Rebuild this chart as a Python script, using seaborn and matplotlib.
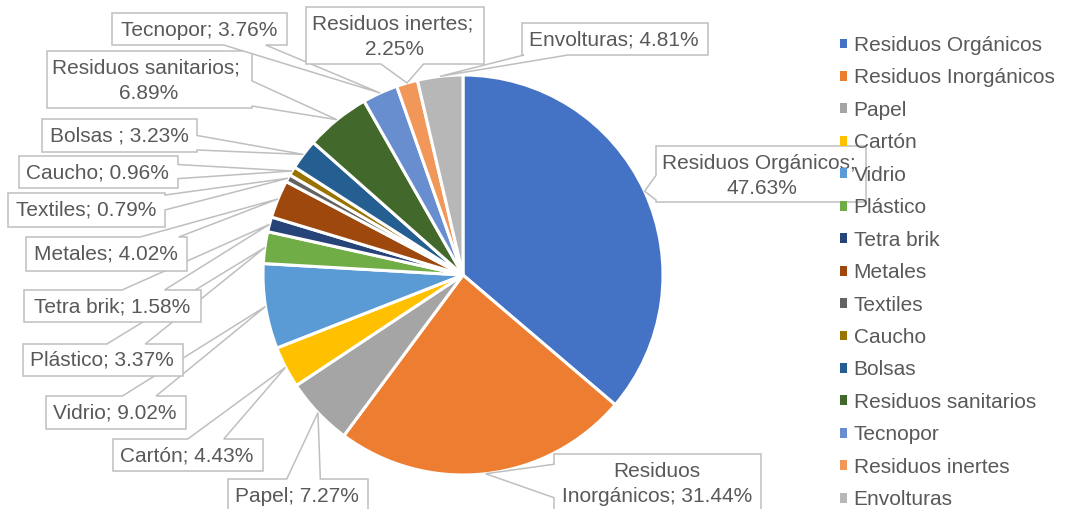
import numpy as np
import matplotlib
matplotlib.use("Agg")
import matplotlib.pyplot as plt
import seaborn as sns
from matplotlib.patches import Polygon, Patch

# ---------------- data ----------------
categories = ["Residuos Orgánicos", "Residuos Inorgánicos", "Papel", "Cartón", "Vidrio",
              "Plástico", "Tetra brik", "Metales", "Textiles", "Caucho", "Bolsas",
              "Residuos sanitarios", "Tecnopor", "Residuos inertes", "Envolturas"]
values = [47.63, 31.44, 7.27, 4.43, 9.02, 3.37, 1.58, 4.02, 0.79, 0.96, 3.23,
          6.89, 3.76, 2.25, 4.81]
label_names = ["Residuos Orgánicos", "Residuos\nInorgánicos", "Papel", "Cartón", "Vidrio",
               "Plástico", "Tetra brik", "Metales", "Textiles", "Caucho", "Bolsas ",
               "Residuos sanitarios", "Tecnopor", "Residuos inertes", "Envolturas"]
label_seps = ["; \n", "; ", "; ", "; ", "; ", "; ", "; ", "; ", "; ", "; ", "; ",
              "; \n", "; ", "; \n", "; "]
colors = ["#4472C4", "#ED7D31", "#A5A5A5", "#FFC000", "#5B9BD5", "#70AD47", "#264478",
          "#9E480E", "#636363", "#997300", "#255E91", "#43682B", "#698ED0", "#F1975A",
          "#B7B7B7"]

# ---------------- layout (pixel coordinates, y down) ----------------
W, H = 1068, 509
CENTER = (463, 275)
RADIUS = 200
# callout boxes: x0, y0, x1, y1
boxes = [
    (656, 146, 866, 202),
    (554, 454, 761, 530),
    (228, 479, 368, 530),
    (113, 439, 263, 471),
    (46, 396, 186, 429),
    (23, 344, 183, 376),
    (24, 290, 201, 322),
    (26, 237, 187, 271),
    (8, 193, 165, 227),
    (19, 156, 178, 188),
    (42, 119, 197, 152),
    (47, 51, 252, 108),
    (112, 13, 287, 45),
    (306, 7, 484, 64),
    (522, 23, 708, 55),
]
text_pos = [
    (762, 176), (657, 484), (297, 497), (187, 456), (115, 413), (102, 360),
    (112, 307), (106, 254), (86, 210), (97, 173), (119, 136), (149, 81),
    (199, 30), (395, 37), (614, 40),
]

TEXT_COLOR = "#595959"
EDGE_COLOR = "#BFBFBF"

sns.set_theme(style="white")
plt.rcParams["font.family"] = ["Liberation Sans", "DejaVu Sans"]

fig = plt.figure(figsize=(W / 100, H / 100), dpi=100)
ax = fig.add_axes([0, 0, 1, 1])

palette = sns.color_palette(colors)
wedges, _ = ax.pie(values, colors=palette, startangle=-90, counterclock=True,
                   center=CENTER, radius=RADIUS,
                   wedgeprops=dict(edgecolor="white", linewidth=2.2))
ax.set_xlim(0, W)
ax.set_ylim(H, 0)
ax.set_aspect("equal")
ax.set_axis_off()


def callout(box, tip):
    x0, y0, x1, y1 = box
    cx, cy = (x0 + x1) / 2, (y0 + y1) / 2
    dx, dy = tip[0] - cx, tip[1] - cy
    hw, hh = (x1 - x0) / 2, (y1 - y0) / 2
    tx = hw / abs(dx) if dx else np.inf
    ty = hh / abs(dy) if dy else np.inf
    TL, TR, BR, BL = (x0, y0), (x1, y0), (x1, y1), (x0, y1)
    if tx < ty:
        pos = cy + dy * tx
        half = max(6, 0.22 * (y1 - y0))
        pos = min(max(pos, y0 + half + 2), y1 - half - 2)
        if dx > 0:
            verts = [TL, TR, (x1, pos - half), tip, (x1, pos + half), BR, BL]
        else:
            verts = [TL, TR, BR, BL, (x0, pos + half), tip, (x0, pos - half)]
    else:
        pos = cx + dx * ty
        half = min(22, 0.12 * (x1 - x0))
        pos = min(max(pos, x0 + half + 2), x1 - half - 2)
        if dy > 0:
            verts = [TL, TR, BR, (pos + half, y1), tip, (pos - half, y1), BL]
        else:
            verts = [TL, (pos - half, y0), tip, (pos + half, y0), TR, BR, BL]
    return Polygon(verts, closed=True, facecolor="white", edgecolor=EDGE_COLOR,
                   linewidth=1.1, zorder=3)


for i, w in enumerate(wedges):
    mid = np.deg2rad((w.theta1 + w.theta2) / 2)
    tip = (CENTER[0] + w.r * np.cos(mid), CENTER[1] + w.r * np.sin(mid))
    ax.add_patch(callout(boxes[i], tip))
    txt = f"{label_names[i]}{label_seps[i]}{values[i]:.2f}%"
    ax.text(text_pos[i][0], text_pos[i][1], txt, ha="center", va="center",
            multialignment="center", fontsize=15, color=TEXT_COLOR,
            linespacing=1.42, zorder=4)

handles = [Patch(facecolor=w.get_facecolor(), edgecolor="none") for w in wedges]
leg = ax.legend(handles, categories, loc="upper left", bbox_to_anchor=(840, 36),
                bbox_transform=ax.transData, frameon=False, fontsize=15,
                handlelength=0.35, handleheight=0.35, handletextpad=0.3,
                labelspacing=0.645, borderpad=0, borderaxespad=0)
leg.set_zorder(5)
for t in leg.get_texts():
    t.set_color(TEXT_COLOR)

fig.savefig("out.png", dpi=100)
